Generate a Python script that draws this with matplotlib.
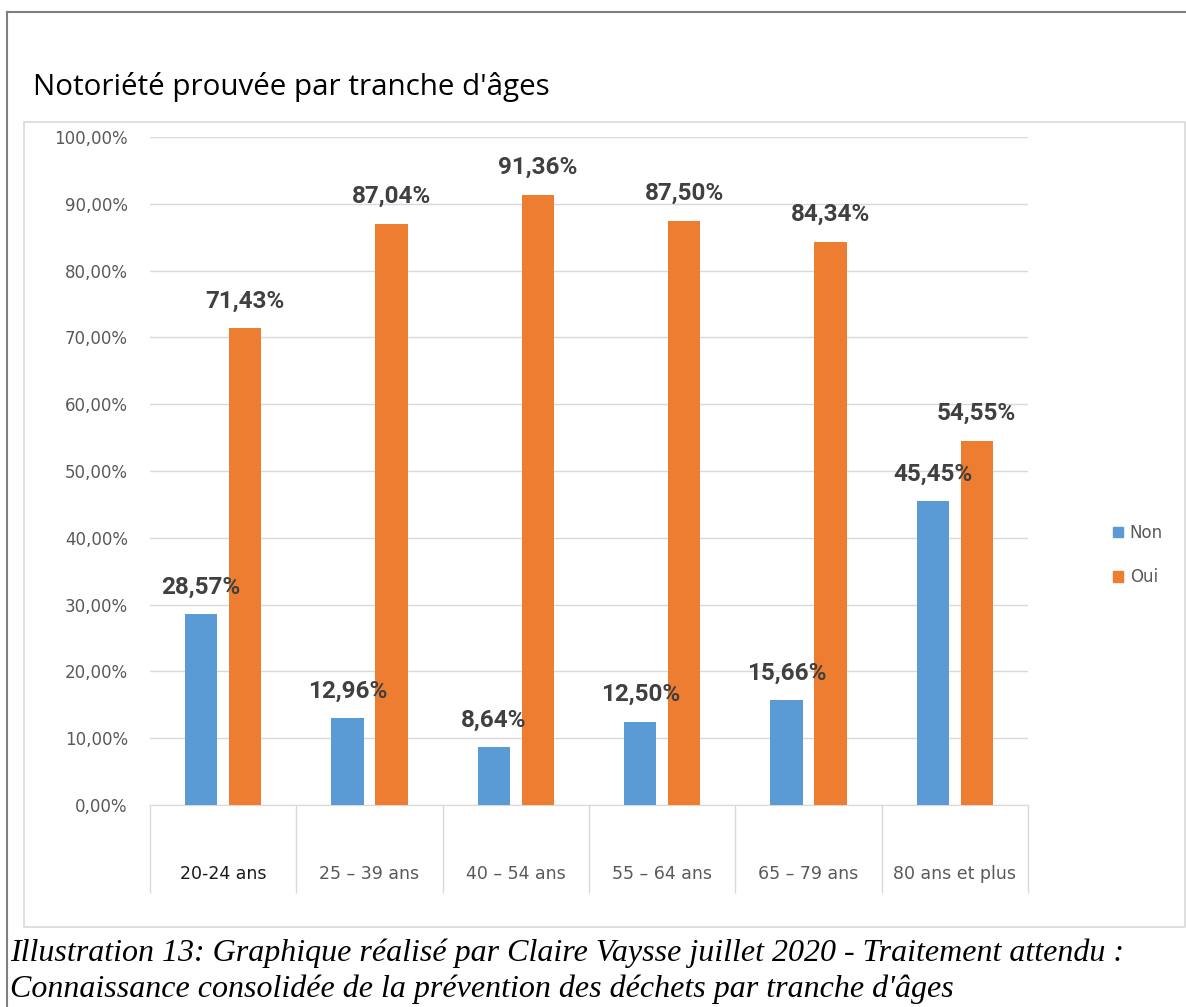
import matplotlib
matplotlib.use("Agg")
import matplotlib.pyplot as plt
from matplotlib.patches import Rectangle
from matplotlib.lines import Line2D
import numpy as np

categories = ["20-24 ans", "25 – 39 ans", "40 – 54 ans", "55 – 64 ans", "65 – 79 ans", "80 ans et plus"]
non_values = [28.57, 12.96, 8.64, 12.50, 15.66, 45.45]
oui_values = [71.43, 87.04, 91.36, 87.50, 84.34, 54.55]
series_names = ["Non", "Oui"]
yticks = [0, 10, 20, 30, 40, 50, 60, 70, 80, 90, 100]
title = "Notoriété prouvée par tranche d'âges"
caption = ("Illustration 13: Graphique réalisé par Claire Vaysse juillet 2020 - Traitement attendu :\n"
           "Connaissance consolidée de la prévention des déchets par tranche d'âges")

W, H = 1186, 1007
fig = plt.figure(figsize=(W / 100, H / 100), dpi=100)

BLUE = "#5B9BD5"
ORANGE = "#ED7D31"

# frames
fig.add_artist(Line2D([7 / W, 7 / W], [0, 1 - 12 / H], transform=fig.transFigure, color="#7f7f7f", lw=1.5))
fig.add_artist(Line2D([7 / W, 1], [1 - 12 / H, 1 - 12 / H], transform=fig.transFigure, color="#7f7f7f", lw=1.5))
fig.add_artist(Rectangle((24 / W, 1 - 927 / H), (1185 - 24) / W, (927 - 122) / H, transform=fig.transFigure,
                         fill=False, edgecolor="#d9d9d9", lw=1.2))

left, right = 150 / W, 1028 / W
bottom, top = 1 - 805 / H, 1 - 137 / H
ax = fig.add_axes([left, bottom, right - left, top - bottom])

x = np.arange(len(categories))
off = 0.15
bw = 0.22
ax.bar(x - off, non_values, bw, color=BLUE, label=series_names[0], zorder=3)
ax.bar(x + off, oui_values, bw, color=ORANGE, label=series_names[1], zorder=3)

def fmt(v):
    return f"{v:.2f}%".replace(".", ",")

for xi, v in zip(x - off, non_values):
    ax.annotate(fmt(v), (xi, v), xytext=(0, 27), textcoords="offset pixels", ha="center", va="center",
                fontsize=17.5, fontweight="bold", color="#404040", family="Roboto", zorder=4)
for xi, v in zip(x + off, oui_values):
    ax.annotate(fmt(v), (xi, v), xytext=(0, 27), textcoords="offset pixels", ha="center", va="center",
                fontsize=17.5, fontweight="bold", color="#404040", family="Roboto", zorder=4)

ax.set_xlim(-0.5, len(categories) - 0.5)
ax.set_ylim(0, 100)
ax.set_yticks(yticks)
ax.set_yticklabels([f"{t:.2f}%".replace(".", ",") for t in yticks], fontsize=12, color="#595959",
                   family="DejaVu Sans")
ax.tick_params(axis="y", length=0, pad=16)
ax.grid(axis="y", color="#d9d9d9", lw=1, zorder=0)

ax.set_xticks(x)
ax.set_xticklabels(categories, fontsize=12.5, color="#595959", family="DejaVu Sans")
ax.get_xticklabels()[0].set_color("#1a1a1a")
ax.tick_params(axis="x", which="major", length=0, pad=43)
ax.set_xticks(np.arange(len(categories) + 1) - 0.5, minor=True)
ax.tick_params(axis="x", which="minor", length=63, color="#d9d9d9", width=1)

for s in ["left", "right", "top"]:
    ax.spines[s].set_visible(False)
ax.spines["bottom"].set_color("#d9d9d9")

fig.text(33 / W, 1 - 87 / H, title, fontsize=21.3, family="Open Sans", color="#000000", va="center", ha="left")

handles = [Rectangle((0, 0), 1, 1, color=BLUE), Rectangle((0, 0), 1, 1, color=ORANGE)]
fig.legend(handles, series_names, loc="center left", bbox_to_anchor=(1098 / W, 1 - 555 / H), frameon=False,
           handlelength=0.6, handleheight=0.6, handletextpad=0.4, labelspacing=1.6,
           labelcolor="#595959", prop={"family": "DejaVu Sans", "size": 12})

fig.text(10 / W, 1 - 971 / H, caption, fontsize=23, family="Liberation Serif", style="italic",
         color="#000000", va="center", ha="left", linespacing=1.3)

fig.savefig("out.png", dpi=100)
